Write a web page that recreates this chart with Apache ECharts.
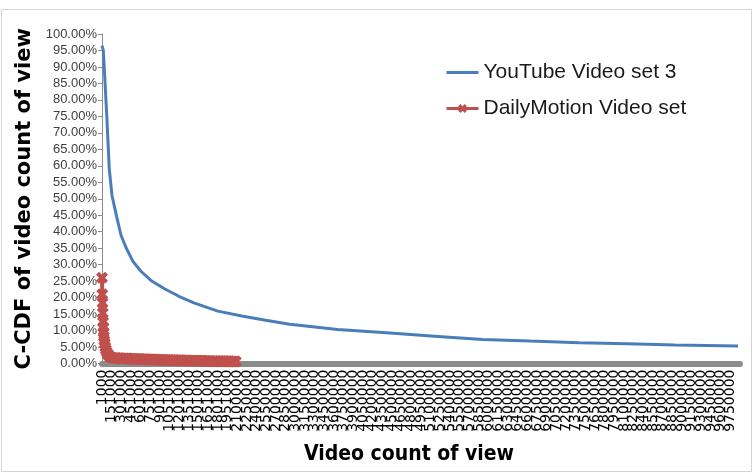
<!DOCTYPE html>
<html>
<head>
<meta charset="utf-8">
<script src="https://cdn.jsdelivr.net/npm/echarts@6/dist/echarts.min.js"></script>
<style>
  html, body { margin: 0; padding: 0; background: #fff; }
  #chart { width: 755px; height: 475px; }
</style>
</head>
<body>
<div id="chart"></div>
<script>
// x is the position in the list of view-count bins (1000 views each)
var tickLabels = ['1000', '151000', '301000', '451000', '601000', '751000', '901000',
  '1051000', '1201000', '1351000', '1501000', '1651000', '1801000', '1951000',
  '2100000', '2250000', '2400000', '2550000', '2700000', '2850000', '3000000',
  '3150000', '3300000', '3450000', '3600000', '3750000', '3900000', '4050000',
  '4200000', '4350000', '4500000', '4650000', '4800000', '4950000', '5100000',
  '5250000', '5400000', '5550000', '5700000', '5850000', '6000000', '6150000',
  '6300000', '6450000', '6600000', '6750000', '6900000', '7050000', '7200000',
  '7350000', '7500000', '7650000', '7800000', '7950000', '8100000', '8250000',
  '8400000', '8550000', '8700000', '8850000', '9000000', '9150000', '9300000',
  '9450000', '9600000', '9750000'];

var youtubeX = [0, 20, 40, 77, 113, 155, 228, 294, 372, 480, 604, 759, 976, 1193,
  1425, 1797, 2169, 2540, 2912, 3656, 4415, 5158, 5902, 6645, 7405, 8148, 8892, 9868];
var youtubeY = [96.5, 95, 88, 74, 59, 51, 44.5, 39, 35.2, 31, 28, 25.2, 22.6, 20.4,
  18.4, 15.9, 14.4, 13.1, 11.9, 10.3, 9.3, 8.3, 7.3, 6.8, 6.3, 6.0, 5.6, 5.3];

var dailyX = [0, 4, 8, 12, 16, 20, 25, 30, 36, 42, 50, 60, 75, 90, 110, 135, 165,
  200, 225, 250, 275, 300, 325, 350, 375, 400,
  425, 450, 475, 500, 525, 550, 575, 600, 625,
  650, 675, 700, 725, 750, 775, 800, 825, 850,
  875, 900, 925, 950, 975, 1000, 1025, 1050, 1075,
  1100, 1125, 1150, 1175, 1200, 1225, 1250, 1275, 1300,
  1325, 1350, 1375, 1400, 1425, 1450, 1475, 1500, 1525,
  1550, 1575, 1600, 1625, 1650, 1675, 1700, 1725, 1750,
  1775, 1800, 1825, 1850, 1875, 1900, 1925, 1950, 1975,
  2000, 2025, 2050, 2075];
var dailyY = [26, 21, 18.4, 15.3, 12.6, 11, 9.5, 8.2, 7, 6, 5, 4.2, 3.4, 2.8, 2.3, 1.9, 1.75,
  1.7, 1.65, 1.6, 1.6, 1.55, 1.55, 1.5, 1.5, 1.5,
  1.45, 1.45, 1.4, 1.4, 1.4, 1.35, 1.35, 1.35, 1.3,
  1.3, 1.3, 1.25, 1.25, 1.25, 1.2, 1.2, 1.2, 1.15,
  1.15, 1.15, 1.1, 1.1, 1.1, 1.05, 1.05, 1.05, 1.0,
  1.0, 1.0, 0.95, 0.95, 0.95, 0.95, 0.9, 0.9, 0.9,
  0.9, 0.85, 0.85, 0.85, 0.85, 0.8, 0.8, 0.8, 0.8,
  0.8, 0.75, 0.75, 0.75, 0.75, 0.75, 0.7, 0.7, 0.7,
  0.7, 0.7, 0.7, 0.65, 0.65, 0.65, 0.65, 0.65, 0.65,
  0.6, 0.6, 0.6, 0.6];

function pairs(xs, ys) {
  return xs.map(function (x, i) { return [x, ys[i]]; });
}

var crossMark = 'path://M0,2.5L2.5,0L5,2.5L7.5,0L10,2.5L7.5,5L10,7.5L7.5,10L5,7.5L2.5,10L0,7.5L2.5,5Z';
// plain line icon for the legend (degenerate edges keep the box 32x11)
var lineIcon = 'path://M0,0L32,0Z M0,4L32,4L32,7L0,7Z M0,11L32,11Z';

var xLabelStyle = {
  rotate: 90,
  margin: 6,
  fontSize: 14,
  color: '#000',
  fontFamily: 'DejaVu Sans, sans-serif'
};

var myChart = echarts.init(document.getElementById('chart'));
var option = {
  animation: false,
  graphic: [{
    type: 'rect',
    shape: { x: 1.5, y: 9.5, width: 750, height: 462 },
    style: { fill: 'none', stroke: '#d4d4d4', lineWidth: 1 },
    silent: true
  }],
  grid: { left: 102, right: 15, top: 34, bottom: 111.5 },
  legend: {
    orient: 'vertical',
    left: 440,
    top: 57,
    itemWidth: 32,
    itemHeight: 11,
    itemGap: 15,
    textStyle: { fontSize: 21, color: '#1a1a1a', fontFamily: 'Liberation Sans, sans-serif' },
    data: [
      { name: 'YouTube Video set 3', icon: lineIcon },
      { name: 'DailyMotion Video set', lineStyle: { width: 3 } }
    ]
  },
  xAxis: [{
    type: 'value',
    min: 0,
    max: 9899,
    interval: 150,
    name: 'Video count of view',
    nameLocation: 'middle',
    nameGap: 81,
    nameTextStyle: {
      fontSize: 21, fontWeight: 'bold', color: '#000',
      fontFamily: 'DejaVu Sans Condensed, DejaVu Sans, sans-serif',
      padding: [0, 24, 0, 0]
    },
    splitLine: { show: false },
    axisLine: { lineStyle: { color: '#8c8c8c', width: 6 } },
    axisTick: { show: false },
    axisLabel: Object.assign({}, xLabelStyle, {
      showMinLabel: false,
      showMaxLabel: false,
      formatter: function (v) {
        return v % 150 === 0 && tickLabels[v / 150] ? tickLabels[v / 150] : '';
      }
    })
  }, {
    // second copy of the axis only to print the first label, which the
    // overlap check would otherwise drop
    type: 'value',
    position: 'bottom',
    min: 0,
    max: 9899,
    interval: 150,
    splitLine: { show: false },
    axisLine: { show: false },
    axisTick: { show: false },
    axisLabel: Object.assign({}, xLabelStyle, {
      showMinLabel: true,
      showMaxLabel: false,
      formatter: function (v) { return v === 0 ? tickLabels[0] : ''; }
    })
  }],
  yAxis: {
    type: 'value',
    min: 0,
    max: 100,
    interval: 5,
    name: 'C-CDF of video count of view',
    nameLocation: 'middle',
    nameRotate: 90,
    nameGap: 67,
    nameTextStyle: { fontSize: 21, fontWeight: 'bold', color: '#000', fontFamily: 'DejaVu Sans, sans-serif' },
    splitLine: { show: false },
    axisLine: { show: true, lineStyle: { color: '#8c8c8c', width: 1 } },
    axisTick: { show: true, length: 4, lineStyle: { color: '#8c8c8c' } },
    axisLabel: {
      margin: 5,
      fontSize: 13,
      color: '#404040',
      fontFamily: 'Liberation Sans, sans-serif',
      formatter: function (v) { return v.toFixed(2) + '%'; }
    }
  },
  series: [{
    name: 'YouTube Video set 3',
    type: 'line',
    symbol: 'none',
    color: '#4a7ebb',
    lineStyle: { width: 3, color: '#4a7ebb' },
    data: pairs(youtubeX, youtubeY)
  }, {
    name: 'DailyMotion Video set',
    type: 'line',
    symbol: crossMark,
    symbolSize: 12,
    color: '#c0504d',
    itemStyle: { color: '#c0504d' },
    lineStyle: { width: 4, color: '#c0504d' },
    data: pairs(dailyX, dailyY)
  }]
};
myChart.setOption(option);
window.onresize = myChart.resize;
</script>
</body>
</html>
